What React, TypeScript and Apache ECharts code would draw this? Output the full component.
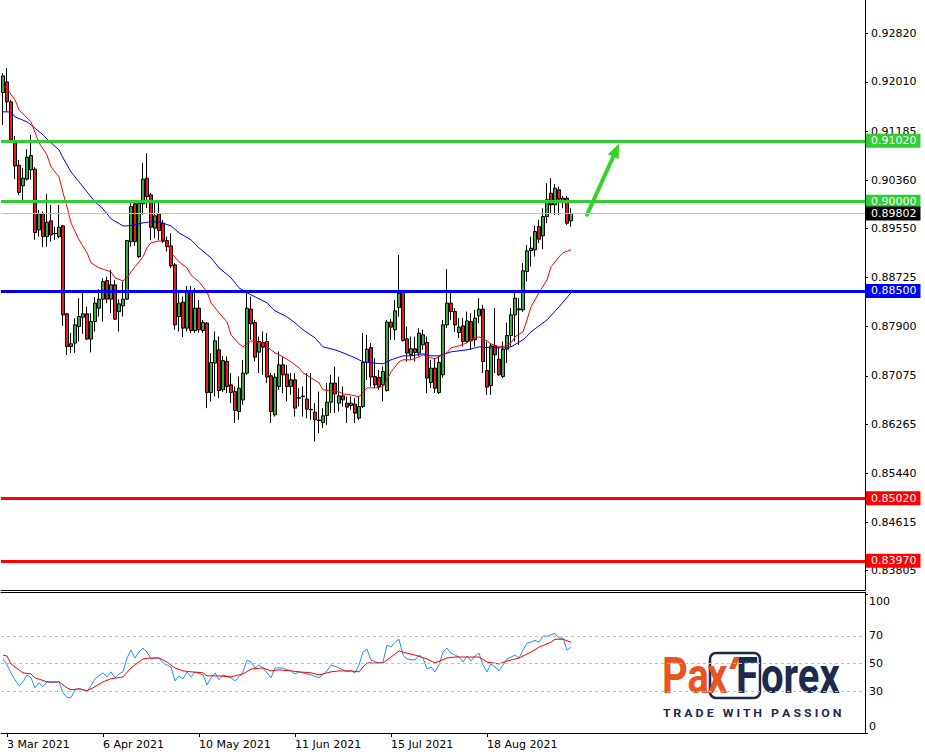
import React, { useEffect, useRef } from 'react';
import * as echarts from 'echarts';

// ---------- data ----------
const opens = [
  0.91831, 0.92010, 0.91674, 0.91008, 0.90612, 0.90265, 0.90377, 0.90533, 0.90545, 0.89526,
  0.89795, 0.89413, 0.89677, 0.89459, 0.89413, 0.89593, 0.88116, 0.87567, 0.87625, 0.87903,
  0.88060, 0.88116, 0.87692, 0.87987, 0.88212, 0.88363, 0.88675, 0.88363, 0.88603, 0.88154,
  0.88250, 0.88363, 0.89329, 0.89963, 0.89078, 0.89963, 0.90394, 0.90114, 0.89554, 0.89795,
  0.89638, 0.89346, 0.89257, 0.88939, 0.88071, 0.88313, 0.87876, 0.88474, 0.87836, 0.88212,
  0.87836, 0.87960, 0.86795, 0.87289, 0.87512, 0.86840, 0.87315, 0.86924, 0.86811, 0.86476,
  0.86672, 0.87121, 0.88195, 0.87970, 0.87473, 0.87635, 0.87651, 0.87076, 0.86421, 0.86896,
  0.87260, 0.87104, 0.86896, 0.87008, 0.86700, 0.86728, 0.86684, 0.86505, 0.86466, 0.86325,
  0.86292, 0.86409, 0.86633, 0.86953, 0.86617, 0.86740, 0.86617, 0.86577, 0.86600, 0.86365,
  0.86560, 0.87299, 0.87551, 0.87064, 0.87047, 0.86924, 0.86828, 0.87977, 0.87848, 0.88222,
  0.88480, 0.87697, 0.87428, 0.87529, 0.87457, 0.87596, 0.87635, 0.86963, 0.87205, 0.86795,
  0.87092, 0.87931, 0.88296, 0.88154, 0.87802, 0.87914, 0.87651, 0.87987, 0.87680, 0.88083,
  0.88195, 0.87164, 0.86913, 0.87579, 0.87355, 0.87064, 0.87524, 0.87752, 0.88099, 0.88183,
  0.88183, 0.88826, 0.89179, 0.89191, 0.89581, 0.89425, 0.89749, 0.90142, 0.89946, 0.90198,
  0.90058, 0.90058, 0.89677,
];
const closes = [
  0.92111, 0.91674, 0.91037, 0.90600, 0.90153, 0.90394, 0.90746, 0.90773, 0.89481, 0.89795,
  0.89413, 0.89655, 0.89442, 0.89467, 0.89571, 0.88099, 0.87567, 0.87613, 0.87931, 0.88070,
  0.88116, 0.87692, 0.87987, 0.88296, 0.88363, 0.88658, 0.88363, 0.88603, 0.88027, 0.88284,
  0.88363, 0.89346, 0.89917, 0.89329, 0.89975, 0.90377, 0.90085, 0.89571, 0.89761, 0.89514,
  0.89346, 0.89245, 0.88922, 0.87931, 0.88296, 0.87876, 0.88474, 0.87836, 0.88212, 0.87848,
  0.87970, 0.86795, 0.87299, 0.87663, 0.86828, 0.87332, 0.86896, 0.86795, 0.86493, 0.86868,
  0.87121, 0.88212, 0.87948, 0.87389, 0.87651, 0.87557, 0.87054, 0.86476, 0.87054, 0.87260,
  0.87092, 0.86896, 0.87008, 0.86533, 0.86709, 0.86737, 0.86516, 0.86513, 0.86337, 0.86334,
  0.86404, 0.86633, 0.86953, 0.86773, 0.86740, 0.86672, 0.86550, 0.86617, 0.86449, 0.86560,
  0.87299, 0.87524, 0.87054, 0.86924, 0.86896, 0.87148, 0.87977, 0.87893, 0.88166, 0.88464,
  0.87668, 0.87457, 0.87529, 0.87467, 0.87793, 0.87764, 0.87037, 0.87205, 0.86868, 0.87299,
  0.87931, 0.88296, 0.88154, 0.87931, 0.87893, 0.87651, 0.87998, 0.87663, 0.88044, 0.88195,
  0.87315, 0.86886, 0.87579, 0.87428, 0.87092, 0.87524, 0.87752, 0.88099, 0.88380, 0.88200,
  0.88838, 0.89174, 0.89219, 0.89498, 0.89370, 0.89749, 0.90030, 0.89946, 0.90226, 0.90042,
  0.90018, 0.89638, 0.89802,
];
const lows = [
  0.91289, 0.91512, 0.90987, 0.90377, 0.90114, 0.90030, 0.90354, 0.90366, 0.89358, 0.89413,
  0.89235, 0.89245, 0.89329, 0.89358, 0.89387, 0.87914, 0.87428, 0.87457, 0.87462, 0.87651,
  0.87781, 0.87680, 0.87467, 0.87819, 0.88071, 0.87987, 0.88296, 0.88128, 0.88015, 0.87819,
  0.88071, 0.88351, 0.89245, 0.89257, 0.89057, 0.89778, 0.89891, 0.89358, 0.89387, 0.89358,
  0.89302, 0.89162, 0.88883, 0.87848, 0.87819, 0.87725, 0.87819, 0.87793, 0.87798, 0.87798,
  0.87798, 0.86533, 0.86643, 0.86728, 0.86701, 0.86806, 0.86785, 0.86617, 0.86282, 0.86337,
  0.86588, 0.87092, 0.87680, 0.87315, 0.87121, 0.87092, 0.86953, 0.86282, 0.86392, 0.86840,
  0.86785, 0.86643, 0.86756, 0.86392, 0.86560, 0.86392, 0.86365, 0.86337, 0.85972, 0.86114,
  0.86198, 0.86253, 0.86449, 0.86449, 0.86476, 0.86560, 0.86282, 0.86505, 0.86282, 0.86337,
  0.86533, 0.87008, 0.86896, 0.86868, 0.86840, 0.86643, 0.86811, 0.87680, 0.87680, 0.88071,
  0.87651, 0.87315, 0.87344, 0.87315, 0.87400, 0.87512, 0.86785, 0.86874, 0.86790, 0.86773,
  0.87042, 0.87881, 0.88015, 0.87814, 0.87708, 0.87567, 0.87630, 0.87512, 0.87567, 0.87960,
  0.87121, 0.86756, 0.86756, 0.87121, 0.87076, 0.87037, 0.87289, 0.87567, 0.87651, 0.87596,
  0.88149, 0.88658, 0.88910, 0.89078, 0.89302, 0.89202, 0.89638, 0.89812, 0.89778, 0.89778,
  0.89890, 0.89610, 0.89581,
];
const highs = [
  0.92157, 0.92241, 0.91708, 0.91104, 0.90701, 0.90567, 0.90881, 0.91121, 0.90578, 0.89862,
  0.89833, 0.90131, 0.89946, 0.89581, 0.89946, 0.89610, 0.88133, 0.87798, 0.88044, 0.88380,
  0.88464, 0.88238, 0.88128, 0.88396, 0.88531, 0.88715, 0.88742, 0.88855, 0.88687, 0.88363,
  0.88658, 0.89358, 0.89975, 0.90030, 0.90030, 0.90646, 0.90814, 0.90148, 0.89975, 0.89975,
  0.89694, 0.89413, 0.89470, 0.88968, 0.88464, 0.88407, 0.88586, 0.88586, 0.88553, 0.88351,
  0.88015, 0.87981, 0.87457, 0.87819, 0.87735, 0.87411, 0.87400, 0.87121, 0.86896, 0.87064,
  0.87344, 0.88490, 0.88407, 0.88015, 0.87735, 0.87819, 0.87793, 0.87121, 0.87121, 0.87484,
  0.87400, 0.87260, 0.87121, 0.87121, 0.86868, 0.86896, 0.87121, 0.87121, 0.86617, 0.86811,
  0.86533, 0.86953, 0.87092, 0.87232, 0.87064, 0.86896, 0.86728, 0.86728, 0.86701, 0.86728,
  0.87793, 0.87764, 0.87625, 0.87372, 0.87176, 0.87232, 0.88015, 0.88027, 0.88351, 0.89107,
  0.88519, 0.87903, 0.87735, 0.87735, 0.87876, 0.87848, 0.87735, 0.87344, 0.87378, 0.87400,
  0.88015, 0.88866, 0.88464, 0.88212, 0.88044, 0.88049, 0.88154, 0.88128, 0.88183, 0.88380,
  0.88267, 0.87651, 0.87625, 0.88212, 0.87557, 0.87651, 0.87970, 0.88212, 0.88474, 0.88380,
  0.88968, 0.89274, 0.89413, 0.89593, 0.89694, 0.89890, 0.90310, 0.90394, 0.90298, 0.90253,
  0.90097, 0.90097, 0.89890,
];

// moving averages, sampled [barIndex, price]
const maFast: [number, number][] = [
  [0, 0.91960], [1, 0.91893], [3, 0.91708], [4, 0.91541], [7, 0.91339], [9, 0.90987], [11, 0.90785],
  [12, 0.90584], [14, 0.90416], [15, 0.90148], [16, 0.89912], [17, 0.89644], [19, 0.89358], [21, 0.89141],
  [22, 0.88973], [24, 0.88889], [27, 0.88821], [28, 0.88721], [30, 0.88670], [31, 0.88721], [32, 0.88821],
  [33, 0.88905], [35, 0.89074], [36, 0.89224], [37, 0.89308], [39, 0.89341], [41, 0.89325], [42, 0.89141],
  [44, 0.88989], [46, 0.88889], [47, 0.88771], [49, 0.88654], [51, 0.88486], [52, 0.88301], [54, 0.88133],
  [56, 0.87982], [57, 0.87764], [59, 0.87613], [60, 0.87562], [62, 0.87663], [63, 0.87646], [65, 0.87630],
  [67, 0.87512], [68, 0.87462], [70, 0.87395], [72, 0.87311], [74, 0.87210], [75, 0.87126], [77, 0.87042],
  [79, 0.86958], [80, 0.86840], [82, 0.86823], [84, 0.86806], [85, 0.86773], [87, 0.86756], [89, 0.86722],
  [90, 0.86806], [91, 0.86874], [93, 0.86874], [95, 0.86891], [96, 0.87008], [97, 0.87143], [99, 0.87311],
  [100, 0.87344], [102, 0.87344], [104, 0.87395], [105, 0.87428], [107, 0.87378], [108, 0.87361],
  [111, 0.87462], [112, 0.87546], [114, 0.87579], [116, 0.87630], [117, 0.87680], [119, 0.87730],
  [121, 0.87663], [122, 0.87613], [124, 0.87562], [126, 0.87579], [127, 0.87630], [128, 0.87730],
  [130, 0.87814], [131, 0.88015], [132, 0.88233], [134, 0.88469], [136, 0.88687], [137, 0.88905],
  [139, 0.89074], [140, 0.89141], [142, 0.89191],
];
const maSlow: [number, number][] = [
  [0, 0.91507], [2, 0.91507], [3, 0.91423], [6, 0.91339], [7, 0.91289], [10, 0.91121], [12, 0.90987],
  [14, 0.90869], [15, 0.90735], [17, 0.90500], [19, 0.90332], [21, 0.90164], [23, 0.89996], [25, 0.89879],
  [27, 0.89711], [30, 0.89593], [31, 0.89593], [33, 0.89610], [35, 0.89644], [37, 0.89661], [39, 0.89661],
  [42, 0.89593], [44, 0.89476], [47, 0.89358], [49, 0.89224], [52, 0.89057], [54, 0.88889], [57, 0.88721],
  [59, 0.88553], [61, 0.88469], [63, 0.88402], [66, 0.88301], [68, 0.88167], [71, 0.88066], [73, 0.87965],
  [75, 0.87848], [78, 0.87713], [80, 0.87562], [83, 0.87512], [85, 0.87462], [88, 0.87378], [90, 0.87311],
  [92, 0.87294], [95, 0.87277], [97, 0.87344], [100, 0.87411], [102, 0.87411], [105, 0.87445],
  [107, 0.87411], [109, 0.87411], [112, 0.87478], [116, 0.87512], [119, 0.87562], [122, 0.87546],
  [126, 0.87546], [127, 0.87562], [130, 0.87680], [132, 0.87814], [136, 0.88015], [139, 0.88233],
  [142, 0.88469],
];

// oscillator (0..100), sampled [barIndex, value]
const oscMain: [number, number][] = [
  [0, 53.4], [1, 49.1], [2, 43.4], [3, 38.4], [4, 34.1], [5, 36.9], [6, 41.9], [7, 39.8], [8, 32.6], [9, 36.2],
  [10, 33.4], [11, 36.9], [12, 36.2], [14, 36.9], [15, 29.1], [16, 25.5], [17, 25.5], [18, 31.2], [19, 31.9],
  [20, 31.2], [21, 29.8], [22, 34.1], [23, 39.1], [25, 43.4], [26, 40.5], [27, 44.1], [28, 39.8], [29, 42.6],
  [30, 44.1], [31, 54.1], [32, 59.8], [33, 54.1], [34, 58.4], [35, 61.2], [36, 58.4], [37, 53.4], [38, 54.1],
  [39, 54.1], [40, 50.5], [42, 47.6], [43, 37.6], [44, 41.2], [45, 39.1], [46, 44.1], [47, 40.5], [48, 44.1],
  [50, 41.9], [51, 34.8], [52, 39.8], [53, 43.4], [54, 38.4], [55, 41.9], [57, 39.8], [58, 37.6], [59, 40.5],
  [60, 44.1], [61, 52.6], [62, 51.2], [63, 46.9], [64, 49.1], [65, 46.9], [67, 39.8], [68, 46.9], [70, 46.9],
  [71, 45.5], [72, 44.8], [73, 42.6], [74, 44.1], [76, 42.6], [77, 41.9], [79, 39.8], [81, 44.8], [82, 49.1],
  [84, 46.9], [86, 44.1], [87, 44.8], [88, 43.4], [89, 49.1], [90, 58.4], [91, 60.5], [92, 52.6], [94, 50.5],
  [95, 51.2], [96, 63.4], [97, 62.0], [98, 65.5], [99, 67.6], [100, 56.2], [101, 53.4], [103, 52.6],
  [104, 56.2], [105, 54.1], [106, 46.2], [107, 47.6], [108, 44.1], [109, 49.1], [110, 58.4], [111, 61.2],
  [112, 57.6], [114, 54.8], [115, 51.2], [116, 55.5], [117, 52.0], [118, 55.5], [119, 57.6], [120, 49.1],
  [121, 44.1], [122, 49.8], [123, 47.6], [124, 44.8], [125, 49.1], [126, 53.4], [128, 56.2], [129, 54.1],
  [130, 59.8], [131, 64.8], [132, 65.5], [133, 66.9], [134, 65.5], [135, 69.8], [136, 69.8], [138, 71.9],
  [139, 68.4], [140, 68.4], [141, 59.8], [142, 61.9],
];
const oscSignal: [number, number][] = [
  [0, 56.2], [1, 55.5], [2, 49.8], [5, 43.4], [7, 42.6], [8, 39.8], [11, 36.9], [14, 36.9], [16, 32.6],
  [17, 31.2], [19, 31.9], [21, 30.5], [23, 33.4], [25, 36.9], [27, 39.1], [30, 40.5], [32, 46.9], [33, 49.1],
  [35, 53.4], [37, 54.1], [39, 54.1], [41, 51.2], [43, 46.9], [45, 44.8], [47, 44.1], [50, 43.4], [51, 41.2],
  [54, 41.2], [57, 40.5], [60, 42.6], [62, 46.2], [65, 46.9], [67, 44.8], [69, 45.5], [72, 44.8], [74, 44.1],
  [77, 43.4], [79, 41.9], [82, 44.1], [84, 44.8], [87, 44.8], [89, 44.1], [90, 47.6], [91, 50.5], [94, 50.5],
  [95, 50.5], [97, 54.8], [99, 59.1], [101, 57.6], [103, 56.2], [106, 53.4], [108, 50.5], [111, 54.1],
  [113, 54.8], [116, 54.8], [119, 54.8], [121, 51.2], [124, 49.8], [126, 51.9], [129, 54.1], [132, 58.4],
  [134, 61.9], [137, 65.5], [138, 67.6], [140, 67.6], [142, 65.5],
];

const priceTicks = [0.83805, 0.84615, 0.8544, 0.86265, 0.87075, 0.879, 0.88725, 0.8955, 0.9036, 0.91185, 0.9201, 0.9282];
const oscTicks = [0, 30, 50, 70, 100];
const oscLevels = [30, 50, 70];
const dateTickLabels = ['3 Mar 2021', '6 Apr 2021', '10 May 2021', '11 Jun 2021', '15 Jul 2021', '18 Aug 2021'];
const levelPrices = [0.9102, 0.9, 0.885, 0.8502, 0.8397];
const currentPrice = 0.89802;
const arrowFrom = { index: 146, price: 0.8978 };
const arrowTo = { index: 154, price: 0.9097 };
const priceMin = 0.8348;
const priceMax = 0.93385;
const firstDate = { y: 2021, m: 2, d: 2 };
const slotCount = 216;

// ---------- styles ----------
const FONT = 'DejaVu Sans';
const levelColors = ['#32CD32', '#32CD32', '#0000FF', '#FF0000', '#FF0000'];
const NAVY = '#1d2a4d';
const ORANGE = '#e8541f';
const MONTHS = ['Jan', 'Feb', 'Mar', 'Apr', 'May', 'Jun', 'Jul', 'Aug', 'Sep', 'Oct', 'Nov', 'Dec'];

function buildCategories(): string[] {
  const out: string[] = [];
  let t = Date.UTC(firstDate.y, firstDate.m, firstDate.d);
  while (out.length < slotCount) {
    const d = new Date(t);
    const wd = d.getUTCDay();
    if (wd !== 0 && wd !== 6) out.push(`${d.getUTCDate()} ${MONTHS[d.getUTCMonth()]} ${d.getUTCFullYear()}`);
    t += 86400000;
  }
  return out;
}

export default function App() {
  const ref = useRef<HTMLDivElement>(null);
  useEffect(() => {
    if (!ref.current) return;
    const chart = echarts.init(ref.current, null, { renderer: 'svg' });
    const categories = buildCategories();
    const candles = opens.map((o, i) => [o, closes[i], lows[i], highs[i]]);
    const tickSet = new Set(dateTickLabels);
    const isTick = (_i: number, v: string) => tickSet.has(v);
    const txt = { fontFamily: FONT, fontSize: 11, color: '#000' };

    const levelLines: any[] = levelPrices.map((p, i) => ({
      yAxis: p,
      lineStyle: { color: levelColors[i], width: 3, type: 'solid' },
      label: {
        show: true, position: 'end', distance: 1, formatter: p.toFixed(5),
        color: '#fff', backgroundColor: levelColors[i], padding: [1, 4, 0, 5],
        fontFamily: FONT, fontSize: 11, lineHeight: 13,
      },
    }));
    levelLines.splice(2, 0, {
      yAxis: currentPrice,
      lineStyle: { color: '#C0C0C0', width: 1, type: 'solid' },
      label: {
        show: true, position: 'end', distance: 1, formatter: currentPrice.toFixed(5),
        color: '#fff', backgroundColor: '#000', padding: [1, 4, 0, 5],
        fontFamily: FONT, fontSize: 11, lineHeight: 13,
      },
    });

    const option: any = {
      animation: false,
      backgroundColor: '#fff',
      grid: [
        { left: 1, width: 864, top: 0, height: 590 },
        { left: 1, width: 864, top: 592, height: 141 },
      ],
      xAxis: [
        {
          type: 'category', gridIndex: 0, data: categories, boundaryGap: true, position: 'bottom',
          axisLine: { show: true, lineStyle: { color: '#000', width: 1 } },
          axisTick: { show: false }, axisLabel: { show: false }, splitLine: { show: false },
        },
        {
          type: 'category', gridIndex: 1, data: categories, boundaryGap: true, position: 'bottom',
          axisLine: { show: true, lineStyle: { color: '#000', width: 1 } },
          axisTick: { show: true, interval: isTick, alignWithLabel: true, length: 4, lineStyle: { color: '#000' } },
          axisLabel: { show: true, interval: isTick, align: 'left', margin: 6, ...txt },
          splitLine: { show: false },
        },
        {
          type: 'category', gridIndex: 1, data: categories, boundaryGap: true, position: 'top',
          axisLine: { show: true, lineStyle: { color: '#000', width: 1 } },
          axisTick: { show: false }, axisLabel: { show: false }, splitLine: { show: false },
        },
      ],
      yAxis: [
        {
          type: 'value', gridIndex: 0, position: 'right', min: priceMin, max: priceMax,
          axisLine: { show: true, lineStyle: { color: '#000', width: 1 } },
          axisTick: { show: true, customValues: priceTicks, length: 3, lineStyle: { color: '#000' } },
          axisLabel: { show: true, customValues: priceTicks, margin: 6, formatter: (v: number) => v.toFixed(5), ...txt },
          splitLine: { show: false },
        },
        {
          type: 'value', gridIndex: 1, position: 'right', min: 0, max: 101.7,
          axisLine: { show: true, lineStyle: { color: '#000', width: 1 } },
          axisTick: { show: true, customValues: [0, 100], length: 3, lineStyle: { color: '#000' } },
          axisLabel: {
            show: true, customValues: oscTicks, margin: 4, ...txt,
            formatter: (v: number) => (v === 100 ? '{t|100}' : v === 0 ? '{b|0}' : `{m|${v}}`),
            rich: {
              t: { padding: [14, 0, 0, 0], fontFamily: FONT, fontSize: 11, color: '#000' },
              b: { padding: [0, 0, 14, 0], fontFamily: FONT, fontSize: 11, color: '#000' },
              m: { fontFamily: FONT, fontSize: 11, color: '#000' },
            },
          },
          splitLine: { show: false },
        },
      ],
      series: [
        {
          type: 'candlestick', xAxisIndex: 0, yAxisIndex: 0, data: candles, barWidth: 3, clip: false,
          itemStyle: {
            color: '#3aaa3a', color0: '#e41e1e', borderColor: '#000', borderColor0: '#000',
            borderColorDoji: '#000', borderWidth: 1,
          },
          markLine: { symbol: ['none', 'none'], silent: true, animation: false, precision: 5, data: levelLines },
        },
        {
          type: 'line', xAxisIndex: 0, yAxisIndex: 0, data: maSlow, symbol: 'none', showSymbol: false,
          lineStyle: { color: '#0000FF', width: 1 },
        },
        {
          type: 'line', xAxisIndex: 0, yAxisIndex: 0, data: maFast, symbol: 'none', showSymbol: false,
          lineStyle: { color: '#FF0000', width: 1 },
        },
        {
          type: 'line', xAxisIndex: 1, yAxisIndex: 1, data: oscMain, symbol: 'none', showSymbol: false,
          lineStyle: { color: '#1E90FF', width: 1 },
          markLine: {
            symbol: ['none', 'none'], silent: true, animation: false, precision: 2, label: { show: false },
            lineStyle: { color: '#c0c0c0', width: 1, type: [3, 3] },
            data: oscLevels.map((v) => ({ yAxis: v })),
          },
        },
        {
          type: 'line', xAxisIndex: 1, yAxisIndex: 1, data: oscSignal, symbol: 'none', showSymbol: false,
          lineStyle: { color: '#FF0000', width: 1 },
        },
      ],
    };
    chart.setOption(option);

    const a = chart.convertToPixel({ gridIndex: 0 }, [arrowFrom.index, arrowFrom.price]) as number[];
    const b = chart.convertToPixel({ gridIndex: 0 }, [arrowTo.index, arrowTo.price]) as number[];
    const dx = b[0] - a[0];
    const dy = b[1] - a[1];
    const len = Math.sqrt(dx * dx + dy * dy);
    const ux = dx / len, uy = dy / len;
    const headLen = 14, headHalf = 6;
    const baseX = b[0] - ux * headLen, baseY = b[1] - uy * headLen;
    const px = -uy, py = ux;
    const ARROW = '#33d42a';

    chart.setOption({
      graphic: [
        {
          type: 'line', silent: true,
          shape: { x1: a[0], y1: a[1], x2: baseX + ux * 2, y2: baseY + uy * 2 },
          style: { stroke: ARROW, lineWidth: 4, lineCap: 'round' },
        },
        {
          type: 'polygon', silent: true,
          shape: { points: [[b[0], b[1]], [baseX + px * headHalf, baseY + py * headHalf], [baseX - px * headHalf, baseY - py * headHalf]] },
          style: { fill: ARROW },
        },
        // logo
        {
          type: 'text', x: 662, y: 676, scaleX: 0.8, silent: true,
          style: { text: 'Pa', fill: ORANGE, fontFamily: 'Roboto', fontWeight: 'bold', fontSize: 50, verticalAlign: 'middle', align: 'left' },
        },
        {
          type: 'rect', silent: true,
          shape: { x: 710, y: 653, width: 50, height: 45, r: 6 },
          style: { fill: 'none', stroke: NAVY, lineWidth: 2.5 },
        },
        {
          type: 'text', x: 707, y: 676, scaleX: 0.8, silent: true,
          style: { text: 'x', fill: ORANGE, fontFamily: 'Roboto', fontWeight: 'bold', fontSize: 50, verticalAlign: 'middle', align: 'left' },
        },
        {
          type: 'polygon', silent: true,
          shape: { points: [[729, 669], [734, 657], [740, 657], [735, 669]] },
          style: { fill: ORANGE },
        },
        {
          type: 'text', x: 736, y: 676, scaleX: 0.8, silent: true,
          style: { text: 'F', fill: NAVY, fontFamily: 'Roboto', fontWeight: 'bold', fontSize: 50, verticalAlign: 'middle', align: 'left' },
        },
        {
          type: 'text', x: 761, y: 676, scaleX: 0.8, silent: true,
          style: { text: 'orex', fill: NAVY, fontFamily: 'Roboto', fontWeight: 'bold', fontSize: 50, verticalAlign: 'middle', align: 'left' },
        },
        {
          type: 'text', x: 663, y: 713, scaleX: 1.12, silent: true,
          style: { text: 'T R A D E   W I T H   P A S S I O N', fill: NAVY, fontFamily: 'Roboto', fontWeight: 'bold', fontSize: 11, verticalAlign: 'middle', align: 'left' },
        },
      ],
    });

    return () => chart.dispose();
  }, []);
  return (
    <div
      ref={ref}
      style={{ position: 'absolute', left: 0, top: 0, width: 925, height: 756, background: '#fff' }}
    />
  );
}
